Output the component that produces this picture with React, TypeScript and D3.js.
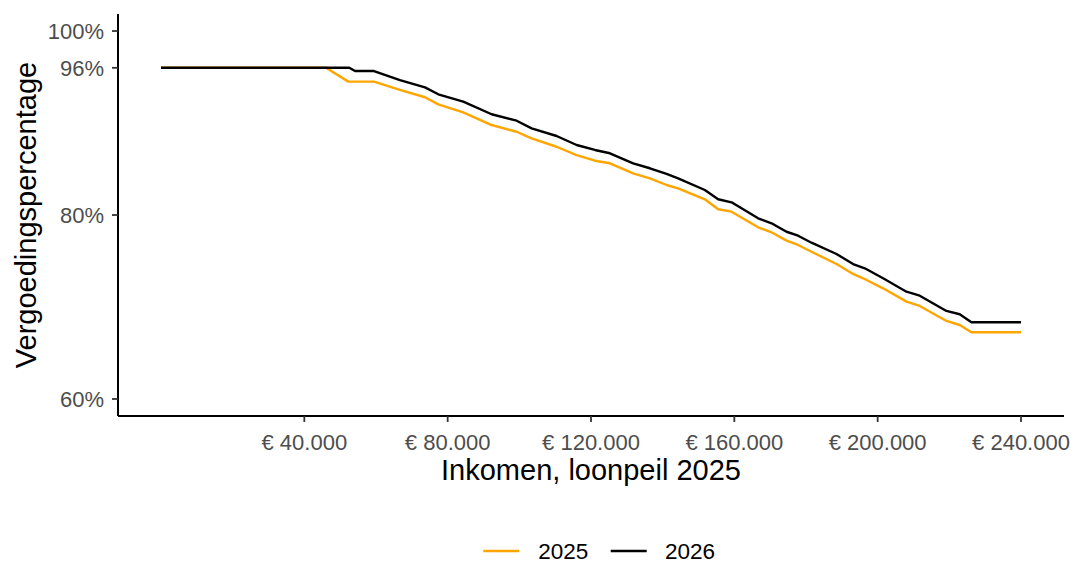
import React from "react";
import * as d3 from "d3";

const income2025 = [0, 46050, 52270, 59440, 66680, 73670, 77380, 84350, 92270, 99250, 103430, 110400, 115980, 121090, 125270, 131770, 136430, 141090, 144320, 151770, 155480, 159220, 166640, 170380, 174560, 177800, 181530, 188510, 193140, 195930, 201510, 208030, 211740, 219190, 222900, 226160, 240000];
const pct2025 = [96, 96, 94.5, 94.5, 93.6, 92.8, 92.03, 91.16, 89.78, 89.05, 88.34, 87.42, 86.52, 85.9, 85.62, 84.53, 83.99, 83.26, 82.9, 81.71, 80.62, 80.36, 78.66, 78.12, 77.21, 76.74, 76.01, 74.67, 73.59, 73.12, 72.03, 70.58, 70.11, 68.48, 68.04, 67.25, 67.25];

const income2026 = [0, 52550, 54140, 59440, 66680, 73670, 77380, 84350, 92270, 99250, 103430, 110400, 115980, 121090, 125270, 131770, 136430, 141090, 144320, 151770, 155480, 159220, 166640, 170380, 174560, 177800, 181530, 188510, 193140, 196400, 201510, 208030, 211740, 219190, 222900, 226160, 240000];
const pct2026 = [96, 96, 95.65, 95.65, 94.67, 93.88, 93.12, 92.32, 90.95, 90.25, 89.42, 88.59, 87.61, 87.07, 86.71, 85.62, 85.08, 84.46, 83.99, 82.72, 81.71, 81.38, 79.64, 79.1, 78.18, 77.75, 76.99, 75.76, 74.67, 74.21, 73.12, 71.66, 71.23, 69.57, 69.21, 68.34, 68.34];

const xTicks = [40000, 80000, 120000, 160000, 200000, 240000];
const yTicks = [60, 80, 96, 100];
const seriesNames = ["2025", "2026"];
const seriesColors = ["#FFA500", "#000000"];

const FONT = "'Liberation Sans', Arial, sans-serif";

export default function App() {
  const W = 1075, H = 563;
  const left = 118, right = 1064, top = 14, bottom = 416;
  const x = d3.scaleLinear().domain([-12000, 252000]).range([left, right]);
  const y = d3.scaleLinear().domain([58.15, 101.85]).range([bottom, top]);

  const line = d3.line<[number, number]>().x(d => x(d[0])).y(d => y(d[1]));
  const series = [
    income2025.map((v, i) => [v, pct2025[i]] as [number, number]),
    income2026.map((v, i) => [v, pct2026[i]] as [number, number]),
  ];
  const fmt = (v: number) => "€ " + d3.format(",")(v).replace(/,/g, ".");

  const legendKeys = [483.3, 610.7];
  const legendText = [538.3, 665];

  return (
    <svg width={W} height={H} style={{ position: "absolute", left: 0, top: 0, background: "#fff" }} fontFamily={FONT}>
      <rect width={W} height={H} fill="#fff" />
      {series.map((s, i) => (
        <path key={i} d={line(s) || ""} fill="none" stroke={seriesColors[i]} strokeWidth={2.4} strokeLinejoin="round" />
      ))}
      {/* axes */}
      <line x1={left} x2={left} y1={top} y2={bottom} stroke="#000" strokeWidth={2} />
      <line x1={left} x2={right} y1={bottom} y2={bottom} stroke="#000" strokeWidth={2} />
      {yTicks.map(t => (
        <g key={t}>
          <line x1={left - 6} x2={left} y1={y(t)} y2={y(t)} stroke="#333" strokeWidth={1.8} />
          <text x={104} y={y(t)} dy="0.36em" textAnchor="end" fontSize={22} fill="#4D4D4D">{t}%</text>
        </g>
      ))}
      {xTicks.map(t => (
        <g key={t}>
          <line x1={x(t)} x2={x(t)} y1={bottom} y2={bottom + 6} stroke="#333" strokeWidth={1.8} />
          <text x={x(t)} y={450} textAnchor="middle" fontSize={22} fill="#4D4D4D">{fmt(t)}</text>
        </g>
      ))}
      <text x={(left + right) / 2} y={480} textAnchor="middle" fontSize={29} fill="#000">Inkomen, loonpeil 2025</text>
      <text transform={`translate(36, ${(top + bottom) / 2}) rotate(-90)`} textAnchor="middle" fontSize={29} fill="#000">Vergoedingspercentage</text>
      {seriesNames.map((n, i) => (
        <g key={n}>
          <line x1={legendKeys[i]} x2={legendKeys[i] + 36} y1={551} y2={551} stroke={seriesColors[i]} strokeWidth={2.4} />
          <text x={legendText[i]} y={559} fontSize={22.5} fill="#000">{n}</text>
        </g>
      ))}
    </svg>
  );
}
